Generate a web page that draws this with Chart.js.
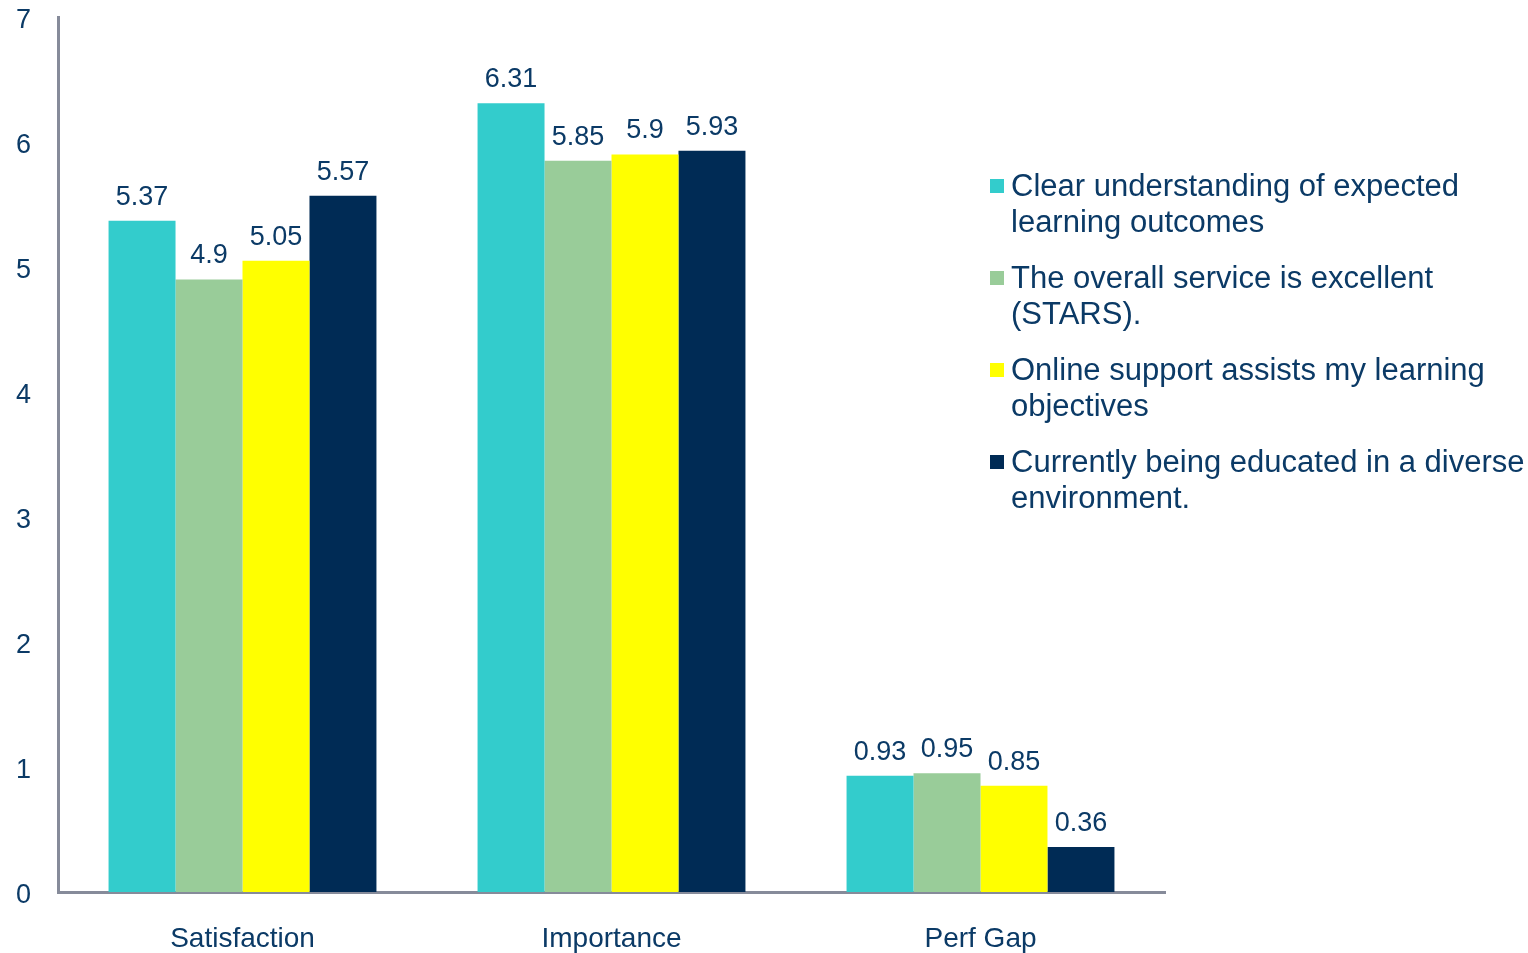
<!DOCTYPE html>
<html>
<head>
<meta charset="utf-8">
<script src="https://cdn.jsdelivr.net/npm/chart.js@4.4.1/dist/chart.umd.min.js"></script>
<style>
  html, body { margin: 0; padding: 0; background: #fff; }
  #wrap { position: relative; width: 1528px; height: 953px; }
  #legend { position: absolute; left: 988px; top: 168px; font-family: "Liberation Sans", Arial, sans-serif;
            font-size: 31px; line-height: 35.5px; color: #0B3A66; }
  .item { position: relative; padding-left: 23px; margin-bottom: 21px; white-space: nowrap; }
  .sw { position: absolute; left: 2px; top: 11px; width: 14px; height: 14px; }
</style>
</head>
<body>
<div id="wrap">
  <canvas id="c" width="1528" height="953"></canvas>
  <div id="legend"></div>
</div>
<script>
// categories + series
const categories = ['Satisfaction', 'Importance', 'Perf Gap'];
const seriesNames = [
  ['Clear understanding of expected', 'learning outcomes'],
  ['The overall service is excellent', '(STARS).'],
  ['Online support assists my learning', 'objectives'],
  ['Currently being educated in a diverse', 'environment.']
];
const clearUnderstanding = [5.37, 6.31, 0.93];
const overallService     = [4.9, 5.85, 0.95];
const onlineSupport      = [5.05, 5.9, 0.85];
const diverseEnvironment = [5.57, 5.93, 0.36];
const seriesColors = ['#33CCCC', '#99CC99', '#FFFF00', '#002B55'];
const yTicks = [0, 1, 2, 3, 4, 5, 6, 7];

const TEXT = '#0B3A66';
const AXIS = '#868B9A';
const FONT = '"Liberation Sans", Arial, sans-serif';

const seriesData = [clearUnderstanding, overallService, onlineSupport, diverseEnvironment];

// value labels above bars
const barLabels = {
  id: 'barLabels',
  afterDatasetsDraw(chart) {
    const ctx = chart.ctx;
    ctx.save();
    ctx.font = '27px ' + FONT;
    ctx.fillStyle = TEXT;
    ctx.textAlign = 'center';
    ctx.textBaseline = 'bottom';
    chart.data.datasets.forEach((ds, i) => {
      chart.getDatasetMeta(i).data.forEach((bar, j) => {
        ctx.fillText(String(ds.data[j]), bar.x, bar.y - 10);
      });
    });
    ctx.restore();
  }
};

new Chart(document.getElementById('c'), {
  type: 'bar',
  data: {
    labels: categories,
    datasets: seriesData.map((d, i) => ({
      label: seriesNames[i].join(' '),
      data: d,
      backgroundColor: seriesColors[i],
      borderWidth: 0,
      barPercentage: 1,
      categoryPercentage: 0.726
    }))
  },
  options: {
    responsive: false,
    animation: false,
    layout: { padding: { top: 17, right: 363, left: 0, bottom: 0 } },
    plugins: { legend: { display: false }, tooltip: { enabled: false } },
    scales: {
      x: {
        grid: { display: false, drawTicks: false },
        border: { color: AXIS, width: 3 },
        ticks: { color: TEXT, font: { family: FONT, size: 28 }, padding: 30 },
        afterFit(s) { s.height = 61; }
      },
      y: {
        min: 0, max: 7,
        afterBuildTicks(s) { s.ticks = yTicks.map(v => ({ value: v })); },
        grid: { display: false, drawTicks: false },
        border: { color: AXIS, width: 3 },
        ticks: { color: TEXT, font: { family: FONT, size: 27 }, padding: 27, labelOffset: 4 },
        afterFit(s) { s.width = 58; s.paddingTop = 0; s.paddingBottom = 0; }
      }
    }
  },
  plugins: [barLabels]
});

// legend
const legend = document.getElementById('legend');
seriesNames.forEach((lines, i) => {
  const item = document.createElement('div');
  item.className = 'item';
  const sw = document.createElement('span');
  sw.className = 'sw';
  sw.style.background = seriesColors[i];
  item.appendChild(sw);
  lines.forEach(line => {
    const d = document.createElement('div');
    d.textContent = line;
    item.appendChild(d);
  });
  legend.appendChild(item);
});
</script>
</body>
</html>
